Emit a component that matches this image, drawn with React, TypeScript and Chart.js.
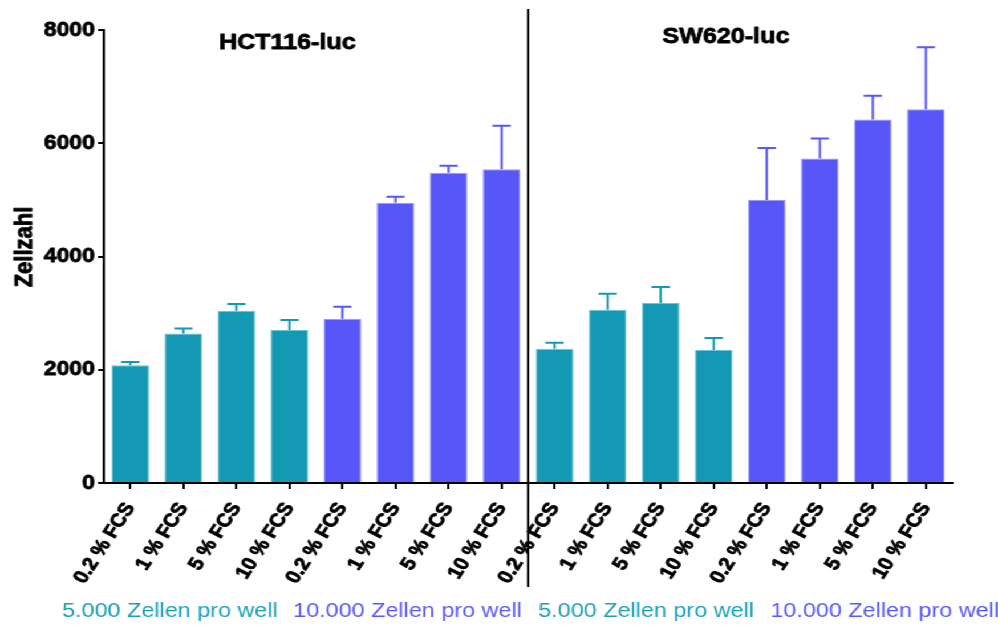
import React, { useEffect, useRef } from "react";
import { Chart, registerables } from "chart.js";

Chart.register(...registerables);

// ---- data ----
const fcsLabels = ["0.2 % FCS", "1 % FCS", "5 % FCS", "10 % FCS"];
const categories = [...fcsLabels, ...fcsLabels, ...fcsLabels, ...fcsLabels];
const hctMeans = [2080, 2640, 3040, 2700, 2900, 4950, 5480, 5540];
const hctErrors = [55, 90, 123, 177, 213, 106, 123, 770];
const swMeans = [2370, 3060, 3180, 2350, 5000, 5730, 6420, 6600];
const swErrors = [106, 283, 283, 212, 918, 354, 418, 1096];
const cellLines = ["HCT116-luc", "SW620-luc"];
const densityLabels = ["5.000 Zellen pro well", "10.000 Zellen pro well"];
const densityOfBar = [0, 0, 0, 0, 1, 1, 1, 1, 0, 0, 0, 0, 1, 1, 1, 1];
const yTicks = [0, 2000, 4000, 6000, 8000];

const values = [...hctMeans, ...swMeans];
const errors = [...hctErrors, ...swErrors];

const TEAL = "#1399b3";
const PURPLE = "#5757f8";
const TEAL_EDGE = "#6cc3d3";
const PURPLE_EDGE = "#9a9afb";
const TEAL_TEXT = "#1d9fb8";
const PURPLE_TEXT = "#5a5af4";
const densityColors = [TEAL, PURPLE];
const densityEdges = [TEAL_EDGE, PURPLE_EDGE];
const densityTextColors = [TEAL_TEXT, PURPLE_TEXT];

const FONT = "'Liberation Sans', Arial, Helvetica, sans-serif";
const W = 875;
const H = 626;
const STRETCH = 998 / W;

function boldText(ctx: any, text: string, x: number, y: number) {
  ctx.lineWidth = 0.8;
  ctx.strokeStyle = ctx.fillStyle;
  ctx.lineJoin = "round";
  ctx.strokeText(text, x, y);
  ctx.fillText(text, x, y);
}

const decorPlugin = {
  id: "decor",
  afterDatasetsDraw(chart: any) {
    const ctx = chart.ctx;
    const meta = chart.getDatasetMeta(0);
    const y = chart.scales.y;
    ctx.save();
    meta.data.forEach((bar: any, i: number) => {
      const top = y.getPixelForValue(values[i] + errors[i]);
      ctx.strokeStyle = densityColors[densityOfBar[i]];
      ctx.lineWidth = 2;
      ctx.beginPath();
      ctx.moveTo(bar.x, bar.y);
      ctx.lineTo(bar.x, top);
      ctx.moveTo(bar.x - 8, top);
      ctx.lineTo(bar.x + 8, top);
      ctx.stroke();
    });
    ctx.restore();
  },
  afterDraw(chart: any) {
    const ctx = chart.ctx;
    const meta = chart.getDatasetMeta(0);
    ctx.save();
    // separator line between cell lines
    const sepX = (meta.data[7].x + meta.data[8].x) / 2;
    ctx.strokeStyle = "#000";
    ctx.lineWidth = 2;
    ctx.beginPath();
    ctx.moveTo(sepX, 9);
    ctx.lineTo(sepX, 587);
    ctx.stroke();

    // panel titles
    ctx.fillStyle = "#000";
    ctx.font = `bold 22px ${FONT}`;
    ctx.textAlign = "center";
    ctx.textBaseline = "alphabetic";
    boldText(ctx, cellLines[0], 252, 49);
    boldText(ctx, cellLines[1], 636.5, 43);

    // y title
    ctx.save();
    ctx.translate(28, 247);
    ctx.rotate(-Math.PI / 2);
    ctx.textAlign = "center";
    ctx.textBaseline = "alphabetic";
    ctx.font = `bold 22px ${FONT}`;
    ctx.fillStyle = "#000";
    boldText(ctx, "Zellzahl", 0, 0);
    ctx.restore();

    // density labels
    ctx.font = `20.5px ${FONT}`;
    ctx.textAlign = "left";
    const starts = [54.4, 257, 471.9, 675.4];
    starts.forEach((sx, k) => {
      const d = k % 2;
      ctx.fillStyle = densityTextColors[d];
      ctx.fillText(densityLabels[d], sx, 617);
    });
    ctx.restore();
  },
};

export default function App() {
  const ref = useRef<HTMLCanvasElement>(null);
  useEffect(() => {
    if (!ref.current) return;
    const chart = new Chart(ref.current, {
      type: "bar",
      data: {
        labels: categories,
        datasets: [
          {
            data: values,
            backgroundColor: densityOfBar.map((d) => densityColors[d]),
            borderColor: densityOfBar.map((d) => densityEdges[d]),
            borderWidth: { left: 1, right: 1, top: 1, bottom: 0 },
            borderSkipped: "bottom",
            barPercentage: 0.71,
            categoryPercentage: 1,
          },
        ],
      },
      options: {
        responsive: false,
        animation: false,
        devicePixelRatio: 1,
        layout: { padding: { top: 30, right: 40, left: 0, bottom: 0 } },
        plugins: {
          legend: { display: false },
          tooltip: { enabled: false },
          title: { display: false },
        },
        scales: {
          x: {
            type: "category",
            offset: true,
            grid: {
              offset: false,
              drawOnChartArea: false,
              drawTicks: true,
              tickLength: 6,
              color: "#000",
              lineWidth: 2,
            },
            border: { color: "#000", width: 2 },
            ticks: {
              color: "#000",
              font: { family: FONT, size: 18.5, weight: "bold" },
              textStrokeColor: "#000",
              textStrokeWidth: 0.8,
              minRotation: 60,
              maxRotation: 60,
              autoSkip: false,
              padding: 10,
            },
            afterFit(scale: any) {
              scale.height = H - 483;
            },
          },
          y: {
            min: 0,
            max: 8000,
            afterBuildTicks(scale: any) {
              scale.ticks = yTicks.map((v) => ({ value: v }));
            },
            grid: {
              drawOnChartArea: false,
              drawTicks: true,
              tickLength: 5,
              color: "#000",
              lineWidth: 2,
            },
            border: { color: "#000", width: 2 },
            ticks: {
              color: "#000",
              font: { family: FONT, size: 20, weight: "bold" },
              textStrokeColor: "#000",
              textStrokeWidth: 0.8,
              padding: 3,
              callback: (v: any) => String(v),
            },
            afterFit(scale: any) {
              scale.width = 91;
            },
          },
        },
      },
      plugins: [decorPlugin],
    });
    return () => chart.destroy();
  }, []);
  return (
    <div
      style={{
        position: "fixed",
        left: 0,
        top: 0,
        width: W,
        height: H,
        transform: `scaleX(${STRETCH})`,
        transformOrigin: "0 0",
        background: "#fff",
      }}
    >
      <canvas ref={ref} width={W} height={H} style={{ width: W, height: H, display: "block" }} />
    </div>
  );
}
